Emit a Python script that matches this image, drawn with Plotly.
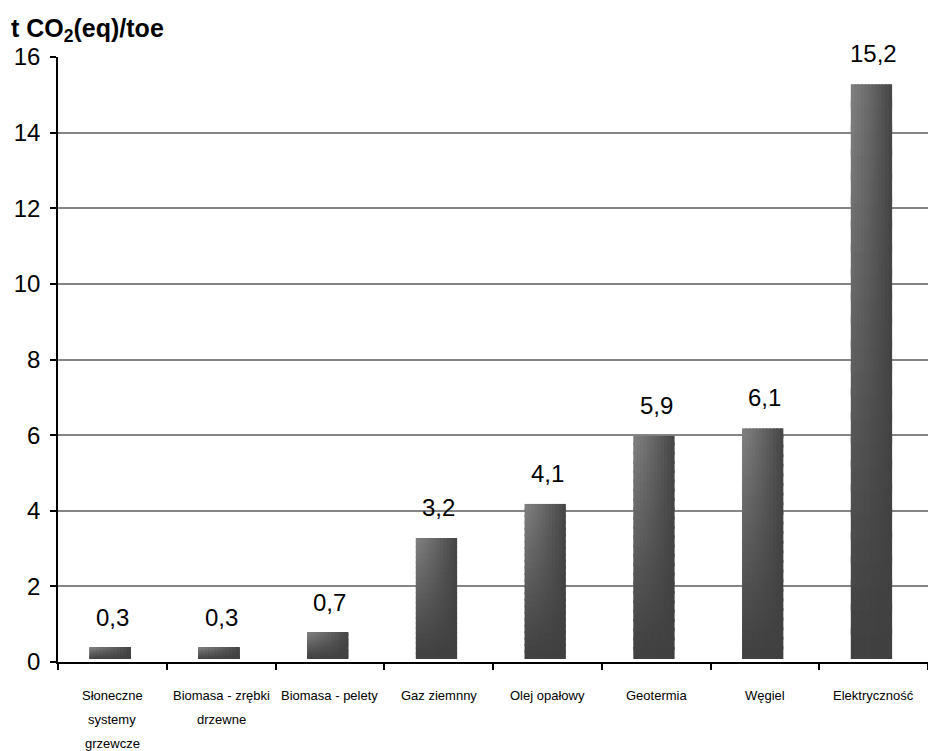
import plotly.graph_objects as go

# ---- data ----
categories = ["Słoneczne systemy grzewcze", "Biomasa - zrębki drzewne", "Biomasa - pelety",
              "Gaz ziemnny", "Olej opałowy", "Geotermia", "Węgiel", "Elektryczność"]
tick_label_lines = [["Słoneczne", "systemy", "grzewcze"],
                    ["Biomasa - zrębki", "drzewne"],
                    ["Biomasa - pelety"],
                    ["Gaz ziemnny"],
                    ["Olej opałowy"],
                    ["Geotermia"],
                    ["Węgiel"],
                    ["Elektryczność"]]
values = [0.3, 0.3, 0.7, 3.2, 4.1, 5.9, 6.1, 15.2]
y_ticks = [0, 2, 4, 6, 8, 10, 12, 14, 16]
y_title = "t CO<sub>2</sub>(eq)/toe"

# ---- style ----
FONT = "Liberation Sans, Arial, sans-serif"
floor = 0.08          # visual 3D floor lift of bars
bar_w = 0.38
shift = -0.02
N = 12                # horizontal gradient strips
M = 24                # vertical gradient segments


def shade(u, t):
    top = 0x80 - (0x80 - 0x44) * (u ** 1.2)
    bottom = 0x40
    v = bottom + (top - bottom) * (t ** 1.1)
    v = int(round(v))
    return f"rgb({v},{v},{v})"


fig = go.Figure()
sw = bar_w / N
for i in range(N):
    u = (i + 0.5) / N
    for k in range(M):
        t = (k + 0.5) / M
        seg = [v / M for v in values]
        bases = [floor + v * k / M for v in values]
        extra_h = [s * 0.3 if k < M - 1 else 0 for s in seg]
        fig.add_trace(go.Bar(
            x=categories,
            y=[s + e for s, e in zip(seg, extra_h)],
            base=bases,
            width=sw * (1.4 if i < N - 1 else 1.0),
            offset=shift - bar_w / 2 + i * sw,
            marker=dict(color=shade(u, t), line=dict(width=0)),
            showlegend=False,
            hoverinfo="skip",
        ))

annotations = []
for c, v in zip(categories, values):
    annotations.append(dict(
        x=c, y=floor + v, xref="x", yref="y",
        text=f"{v:.1f}".replace(".", ","),
        showarrow=False, yanchor="bottom", yshift=15,
        font=dict(family=FONT, size=24, color="black"),
    ))
for c, lines in zip(categories, tick_label_lines):
    for j, line in enumerate(lines):
        annotations.append(dict(
            x=c, y=0, xref="x", yref="y",
            text=line, showarrow=False, yanchor="middle",
            yshift=-33 - 24 * j,
            font=dict(family=FONT, size=13, color="black"),
        ))

fig.update_layout(
    width=928, height=751,
    margin=dict(l=58, r=0, t=57, b=89),
    paper_bgcolor="white", plot_bgcolor="white",
    barmode="overlay",
    font=dict(family=FONT, color="black"),
    title=dict(text=y_title, x=11 / 928, xanchor="left", xref="container",
               y=1 - 28 / 751, yanchor="middle", yref="container",
               font=dict(family=FONT, size=25, color="black", weight="bold")),
    annotations=annotations,
)
fig.update_xaxes(
    type="category", categoryorder="array", categoryarray=categories,
    range=[-0.5, len(categories) - 0.5],
    showticklabels=False, tickson="boundaries",
    ticks="outside", ticklen=6, tickcolor="black", tickwidth=1.5,
    showline=True, linecolor="black", linewidth=2,
    showgrid=False, zeroline=False,
)
fig.update_yaxes(
    range=[0, 16], tickvals=y_ticks, ticktext=[str(v) for v in y_ticks],
    ticks="outside", ticklen=6, tickcolor="black", tickwidth=1.5,
    tickfont=dict(family=FONT, size=24, color="black"),
    ticklabelstandoff=5,
    showline=True, linecolor="black", linewidth=1.5,
    showgrid=True, gridcolor="#858585", gridwidth=1.5,
    zeroline=False,
)

fig.write_html("out.html")
